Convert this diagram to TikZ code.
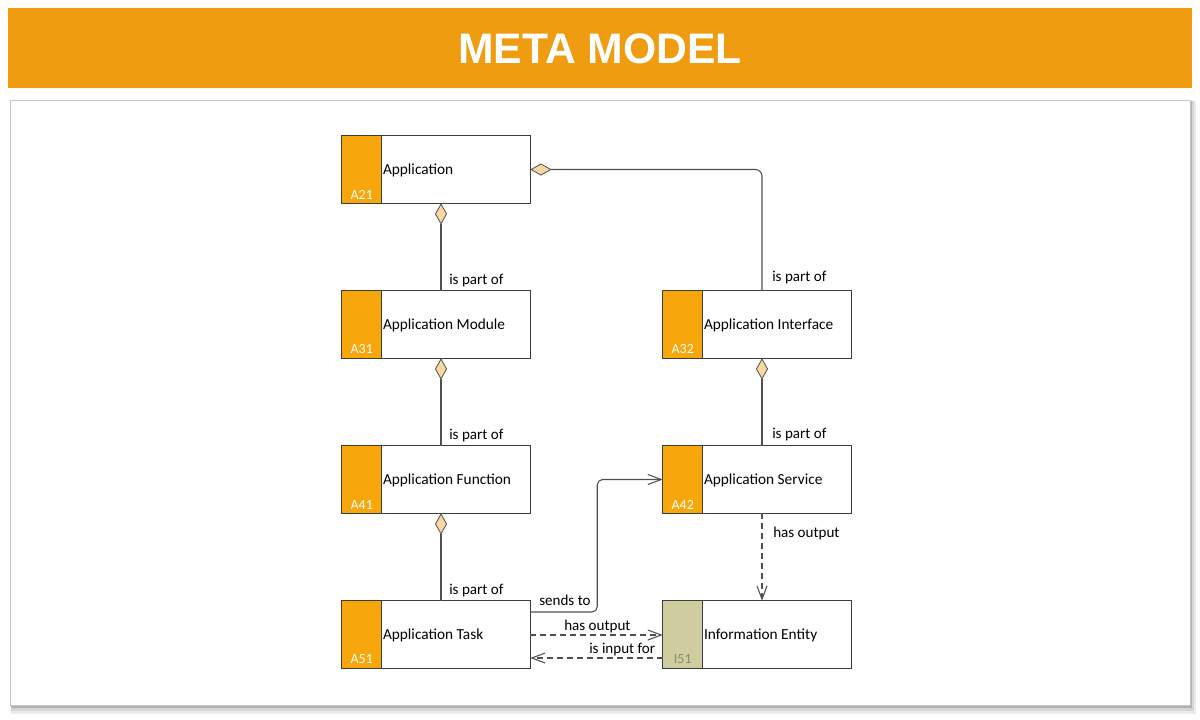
\documentclass[tikz,border=0pt]{standalone}
\usepackage{fontspec}
\setmainfont{Carlito}
\newfontfamily\titlefont{Liberation Sans}
\usetikzlibrary{arrows.meta,calc}
\definecolor{banner}{HTML}{F09C10}
\definecolor{tagor}{HTML}{F7A70C}
\definecolor{tagkh}{HTML}{CFCD9F}
\definecolor{diafill}{HTML}{F8D8A0}
\definecolor{lnc}{HTML}{505050}
\definecolor{boxc}{HTML}{3C3C3C}
\definecolor{codekh}{HTML}{8C8A6A}
\tikzset{
  elbox/.style={minimum width=141pt, minimum height=50.25pt, inner sep=0pt, draw=none},
  boxline/.style={draw=boxc, line width=0.8pt},
  eltext/.style={anchor=west, inner sep=0pt, font=\fontsize{11.5}{13}\selectfont, text=black},
  elcode/.style={anchor=south, inner sep=0pt, font=\fontsize{10.5}{12}\selectfont},
  lbl/.style={anchor=base west, inner sep=0pt, font=\fontsize{11.3}{13}\selectfont, text=black},
  partof/.style={draw=lnc, line width=0.8pt, {Diamond[length=16pt, width=9pt, fill=diafill, line width=0.6pt]}-},
  sendsto/.style={draw=lnc, line width=0.8pt, rounded corners=4pt, -{Straight Barb[length=10pt, width=7.5pt, line width=0.8pt]}},
  dep/.style={draw=lnc, line width=0.8pt, dash pattern=on 4.5pt off 3pt, -{Straight Barb[length=10pt, width=7.5pt, line width=0.8pt]}},
}
\newcommand\mmelem[7]{%
  \node[elbox] (#1) at (#2+94,#3+33.5) {};
  \fill[#6] (#1.north west) rectangle ($(#1.south west)+(40,0)$);
  \draw[boxline] ($(#1.north west)+(40,0)$) -- ($(#1.south west)+(40,0)$);
  \draw[boxline] (#1.north west) rectangle (#1.south east);
  \node[eltext] (#1-l) at ($(#1.west)+(41,1)$) {#4};
  \node[elcode, text=#7] (#1-c) at ($(#1.south west)+(20,-4)$) {#5};
}
\begin{document}
\begin{tikzpicture}[x=0.75pt,y=-0.75pt]
\useasboundingbox (0,0) rectangle (1200,719);
\fill[white] (0,0) rectangle (1200,719);
% banner
\fill[banner] (8,8) rectangle (1192,88);
\node[font=\titlefont\bfseries\fontsize{32}{36}\selectfont, text=white, inner sep=0pt] (title) at (600,49) {META MODEL};
% panel with shadow
\fill[black!8] (11,101) rectangle (1196,714);
\fill[black!16] (11,101) rectangle (1194,711);
\fill[black!30] (11,101) rectangle (1192,708);
\fill[white, draw=black!22, line width=0.6pt] (10,100) rectangle (1190,705);
% elements
\mmelem{app}{342}{136}{Application}{A21}{tagor}{white}
\mmelem{mod}{342}{291}{Application Module}{A31}{tagor}{white}
\mmelem{func}{342}{446}{Application Function}{A41}{tagor}{white}
\mmelem{task}{342}{601}{Application Task}{A51}{tagor}{white}
\mmelem{intf}{663}{291}{Application Interface}{A32}{tagor}{white}
\mmelem{serv}{663}{446}{Application Service}{A42}{tagor}{white}
\mmelem{info}{663}{601}{Information Entity}{I51}{tagkh}{codekh}
% connectors
\draw[partof] ($(app.south)+(5,0)$) -- ($(mod.north)+(5,0)$);
\draw[partof] ($(mod.south)+(5,0)$) -- ($(func.north)+(5,0)$);
\draw[partof] ($(func.south)+(5,0)$) -- ($(task.north)+(5,0)$);
\draw[partof, rounded corners=5pt] (app.east) -| ($(intf.north)+(5,0)$);
\draw[partof] ($(intf.south)+(5,0)$) -- ($(serv.north)+(5,0)$);
\draw[sendsto] ($(task.east)+(0,-22.5)$) -- ++(67,0) |- (serv.west);
\draw[dep] ($(serv.south)+(5,0)$) -- ($(info.north)+(5,0)$);
\draw[dep] ($(task.east)+(0,0.5)$) -- ($(info.west)+(0,0.5)$);
\draw[dep] ($(info.west)+(0,23.5)$) -- ($(task.east)+(0,23.5)$);
% labels
\node[lbl] (l1) at (449,284) {is part of};
\node[lbl] (l2) at (449,439) {is part of};
\node[lbl] (l3) at (449,594) {is part of};
\node[lbl] (l4) at (772,281) {is part of};
\node[lbl] (l5) at (772,438) {is part of};
\node[lbl] (l6) at (773,537) {has output};
\node[lbl] (l7) at (539,605) {sends to};
\node[lbl] (l8) at (564,630) {has output};
\node[lbl] (l9) at (589,653) {is input for};
\end{tikzpicture}
\end{document}
